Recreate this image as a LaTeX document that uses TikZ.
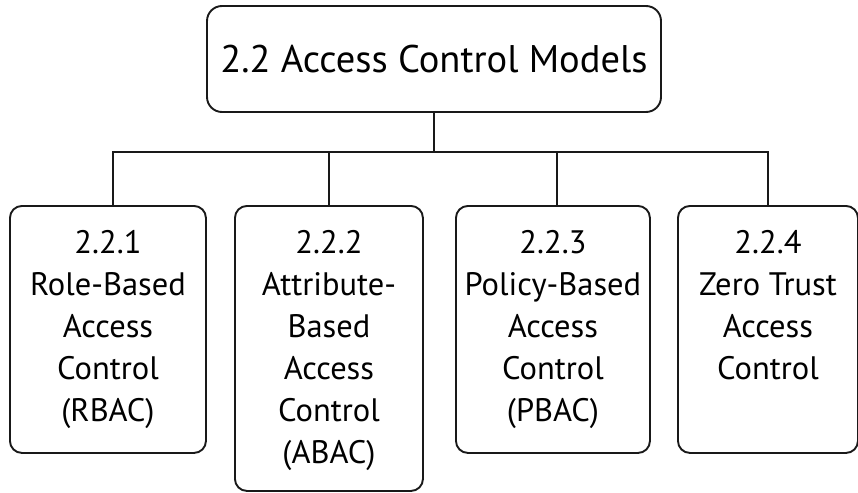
\documentclass[tikz,border=0pt]{standalone}
\usepackage{fontspec}
\setmainfont{PT Sans}
\begin{document}
\begin{tikzpicture}[x=1pt,y=1pt,
  box/.style={draw=black!90, line width=1.9pt, rounded corners=12pt, inner sep=0pt, anchor=north west},
  topbox/.style={draw=black!90, line width=1.9pt, rounded corners=15pt, inner sep=0pt,
    minimum width=454pt, minimum height=106pt, font=\fontsize{38.5}{44}\selectfont},
  conn/.style={draw=black!90, line width=1.9pt}]
\useasboundingbox (0,0) rectangle (858,-492);
\newcommand{\boxtext}[3]{\parbox[t][#1][t]{#2}{\centering\fontsize{32.5}{42}\selectfont\rule{0pt}{48pt}#3}}
\node[topbox] (top) at (434,-59) {2.2 Access Control Models};
\node[box] (b1) at (9,-205) {\boxtext{247pt}{196pt}{2.2.1\\Role-Based\\Access\\Control\\(RBAC)}};
\node[box] (b2) at (234,-205) {\boxtext{285pt}{188pt}{2.2.2\\Attribute-\\Based\\Access\\Control\\(ABAC)}};
\node[box] (b3) at (455,-205) {\boxtext{247pt}{194pt}{2.2.3\\Policy-Based\\Access\\Control\\(PBAC)}};
\node[box] (b4) at (677,-205) {\boxtext{247pt}{180pt}{2.2.4\\Zero Trust\\Access\\Control}};
\coordinate (bus) at (0,-152);
\draw[conn] (top.south) -- (top.south |- bus);
\draw[conn] ([xshift=5pt]b1.north) -- ([xshift=5pt]b1.north |- bus) -- (b4.north |- bus) -- (b4.north);
\draw[conn] (b2.north) -- (b2.north |- bus);
\draw[conn] ([xshift=4pt]b3.north) -- ([xshift=4pt]b3.north |- bus);
\end{tikzpicture}
\end{document}
